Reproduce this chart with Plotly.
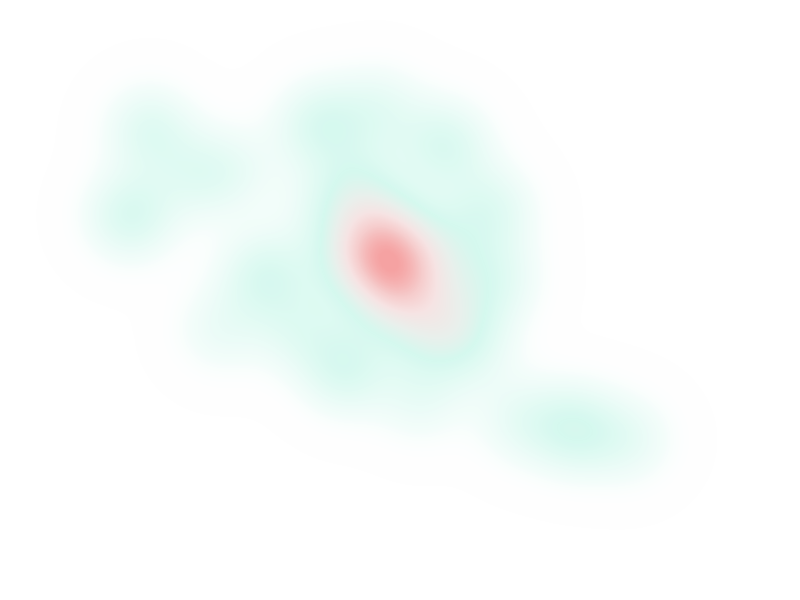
import plotly.graph_objects as go

# Estimated point positions (lon/lat) and weights of the density blobs
lon = [-0.9, -2.6, 0.9, -0.4, -1.3, -4.8, 3.5, -3.5, 2.2, -6.2, 4.8,
       -7.0, -1.8, 4.0,
       7.9, 8.4, 6.2,
       -11.9, -8.8, -4.8,
       -23.7, -22.0, -17.6, -14.1,
       -15.8, 1.8,
       15.4, 10.6, 20.2]
lat = [3.3, 5.3, 1.3, 6.6, 0.0, 3.1, 4.4, 10.1, -3.1, 7.9, -0.9,
       15.2, 16.5, 13.5,
       7.9, 1.8, -4.0,
       2.2, -2.6, -6.1,
       7.4, 14.8, 10.9, 11.4,
       -2.6, -8.7,
       -11.3, -10.5, -12.2]
weight = [0.9, 0.6, 0.6, 0.5, 0.5, 0.5, 0.5, 0.55, 0.55, 0.4, 0.4,
          0.75, 0.5, 0.75,
          0.65, 0.55, 0.5,
          0.75, 0.5, 0.75,
          0.8, 0.65, 0.5, 0.3,
          0.4, 0.4,
          0.8, 0.45, 0.45]

fig = go.Figure(go.Densitymap(
    lon=lon, lat=lat, z=weight, radius=95, zmin=0, zmax=1,
    colorscale=[
        [0.0, "rgba(255,255,255,0)"],
        [0.1, "rgba(213,249,239,0.25)"],
        [0.25, "rgba(213,249,239,0.65)"],
        [0.38, "rgb(213,249,239)"],
        [0.52, "rgb(233,240,236)"],
        [0.66, "rgb(246,228,228)"],
        [0.8, "rgb(246,205,205)"],
        [1.0, "rgb(245,162,162)"],
    ],
    showscale=False,
))
fig.update_layout(
    width=800, height=600,
    margin=dict(l=0, r=0, t=0, b=0),
    map=dict(style="white-bg", center=dict(lon=0, lat=0), zoom=3),
    paper_bgcolor="white",
)
fig.write_html("out.html")
